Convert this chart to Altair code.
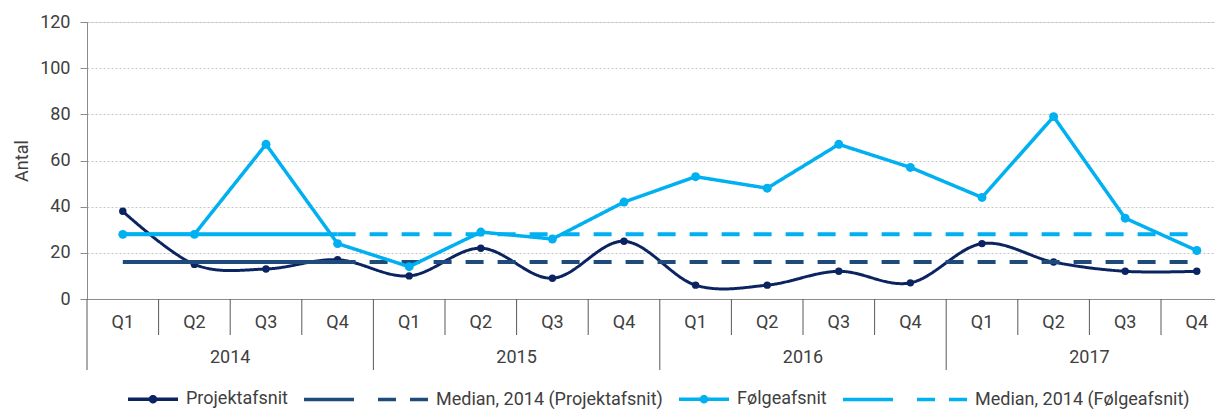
import altair as alt
import pandas as pd

# ---- data ----
years = ["2014", "2015", "2016", "2017"]
quarters = ["Q1", "Q2", "Q3", "Q4"]
projekt = [38, 15, 13, 17, 10, 22, 9, 25, 6, 6, 12, 7, 24, 16, 12, 12]
folge = [28, 28, 67, 24, 14, 29, 26, 42, 53, 48, 67, 57, 44, 79, 35, 21]
median_projekt = 16
median_folge = 28

series_keys = ["Projektafsnit", "Median P 2014", "Median, 2014 (Projektafsnit)",
               "Følgeafsnit", "Median F 2014", "Median, 2014 (Følgeafsnit)"]
blank_keys = ["Median P 2014", "Median F 2014"]
series_colors = ["#0b2461", "#1f4a7c", "#1f4a7c", "#00b0f0", "#00b0f0", "#00b0f0"]
series_dash = [[1, 0], [1, 0], [18, 14], [1, 0], [1, 0], [18, 14]]

FONT = "Roboto"
TXT = "#404040"
FS = 18
W, H = 1128, 277          # visible plot area (right part runs past the page edge)
CAT_PX = 71.6             # pixel width of one quarter category

# ---- tables ----
rows = []
n = len(projekt)
for i in range(n):
    yr, q = years[i // 4], quarters[i % 4]
    rows.append(dict(series=series_keys[0], x=i + 0.5, value=projekt[i], year=yr, q=q))
    rows.append(dict(series=series_keys[3], x=i + 0.5, value=folge[i], year=yr, q=q))
    if i < 4:
        rows.append(dict(series=series_keys[1], x=i + 0.5, value=median_projekt, year=yr, q=q))
        rows.append(dict(series=series_keys[4], x=i + 0.5, value=median_folge, year=yr, q=q))
    if i >= 3:
        rows.append(dict(series=series_keys[2], x=i + 0.5, value=median_projekt, year=yr, q=q))
        rows.append(dict(series=series_keys[5], x=i + 0.5, value=median_folge, year=yr, q=q))
df = pd.DataFrame(rows)

cat_df = pd.DataFrame({"x": [i + 0.5 for i in range(n)],
                       "q": [quarters[i % 4] for i in range(n)]})
year_df = pd.DataFrame({"x": [4 * k + 2 for k in range(len(years))], "year": years})
qsep_df = pd.DataFrame({"x": [i for i in range(1, n) if i % 4 != 0]})
ysep_df = pd.DataFrame({"x": [i for i in range(0, n, 4)]})

# ---- encodings ----
xscale = alt.Scale(domain=[0, W / CAT_PX], nice=False, zero=False)
X = alt.X("x:Q", scale=xscale,
          axis=alt.Axis(labels=False, ticks=False, grid=False, title=None,
                        domainColor="#8c8c8c", domainWidth=1))
Y = alt.Y("value:Q", scale=alt.Scale(domain=[0, 120], nice=False),
          axis=alt.Axis(values=[0, 20, 40, 60, 80, 100, 120], title="Antal",
                        grid=True, gridDash=[2, 2], gridColor="#c4c4c4",
                        domainColor="#8c8c8c", tickColor="#8c8c8c", tickSize=7,
                        labelPadding=10, labelFont=FONT, labelFontSize=FS,
                        labelColor=TXT, titleFont=FONT, titleFontSize=FS,
                        titleFontWeight="normal", titleColor=TXT, titlePadding=8))

SYM = 50
dot_path = "M-1,0L1,0M-0.1,0A0.1,0.1,0,1,0,0.1,0A0.1,0.1,0,1,0,-0.1,0Z"
shape_range = [dot_path, "stroke", "stroke", dot_path, "stroke", "stroke"]
label_expr = " || ".join([f"datum.label == '{k}'" for k in blank_keys]) + " ? '' : datum.label"

legend = alt.Legend(orient="none", legendX=39, legendY=375 - SYM / 2, direction="horizontal",
                    columns=6, title=None, symbolSize=SYM * SYM,
                    symbolStrokeWidth=3.5, symbolOpacity=1, labelFont=FONT,
                    labelFontSize=FS, labelLimit=400,
                    labelColor=TXT, labelOffset=6, columnPadding=9,
                    labelExpr=label_expr)

COLOR = alt.Color("series:N", scale=alt.Scale(domain=series_keys, range=series_colors),
                  legend=legend)
DASH = alt.StrokeDash("series:N", scale=alt.Scale(domain=series_keys, range=series_dash),
                      legend=legend)
SHAPE = alt.Shape("series:N", scale=alt.Scale(domain=series_keys, range=shape_range),
                  legend=legend)

def line_layer(key, width, **kw):
    return alt.Chart(df).transform_filter(alt.datum.series == key).mark_line(
        strokeWidth=width, **kw).encode(x=X, y=Y, color=COLOR, strokeDash=DASH)

def point_layer(key, color, size):
    return alt.Chart(df).transform_filter(alt.datum.series == key).mark_point(
        filled=True, opacity=1, size=size, color=color).encode(x=X, y=Y)

# legend-only layer (no rows pass the filter; supplies symbol shapes to the legend)
shape_layer = alt.Chart(df).transform_filter("false").mark_point(
    filled=False, strokeWidth=3.5, opacity=1).encode(x=X, y=Y, shape=SHAPE, color=COLOR)

layers = [
    line_layer(series_keys[0], 3, interpolate="cardinal", tension=0),
    point_layer(series_keys[0], series_colors[0], 55),
    line_layer(series_keys[1], 4),
    line_layer(series_keys[2], 4),
    line_layer(series_keys[3], 3.5),
    point_layer(series_keys[3], series_colors[3], 80),
    line_layer(series_keys[4], 4),
    line_layer(series_keys[5], 4),
    shape_layer,
]

qsep = alt.Chart(qsep_df).mark_rule(color="#595959", strokeWidth=1).encode(
    x=alt.X("x:Q", scale=xscale), y=alt.value(H), y2=alt.value(H + 36))
ysep = alt.Chart(ysep_df).mark_rule(color="#595959", strokeWidth=1).encode(
    x=alt.X("x:Q", scale=xscale), y=alt.value(H), y2=alt.value(H + 71))
qtext = alt.Chart(cat_df).mark_text(font=FONT, fontSize=FS, color=TXT,
                                    baseline="middle").encode(
    x=alt.X("x:Q", scale=xscale), y=alt.value(H + 24), text="q:N")
ytext = alt.Chart(year_df).mark_text(font=FONT, fontSize=FS, color=TXT,
                                     baseline="middle").encode(
    x=alt.X("x:Q", scale=xscale), y=alt.value(H + 59), text="year:N")

chart = alt.layer(*layers, qsep, ysep, qtext, ytext).properties(
    width=W, height=H,
    autosize=alt.AutoSizeParams(type="none"),
    padding={"left": 79, "top": 14, "right": 0, "bottom": 110},
).configure_view(stroke=None).configure(background="white")

chart.save("out.html", embed_options={"renderer": "svg", "actions": False})
